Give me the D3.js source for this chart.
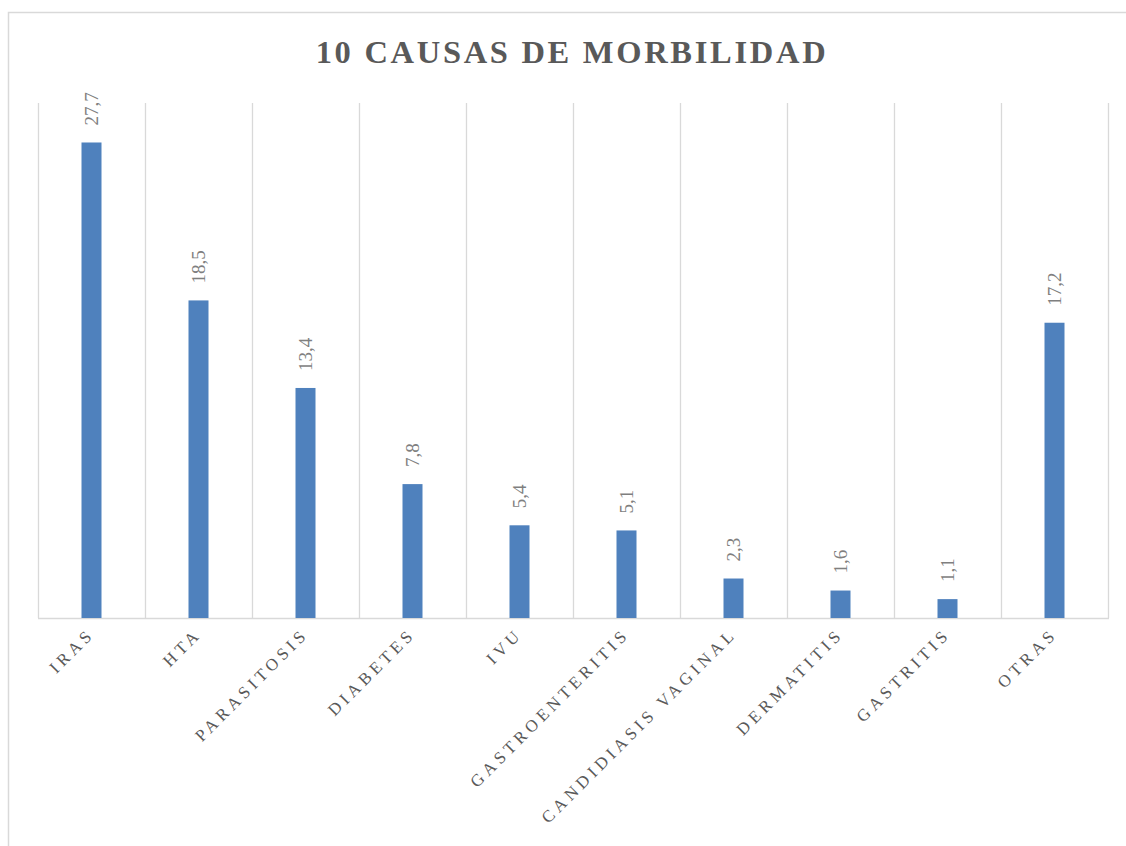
<!DOCTYPE html>
<html>
<head>
<meta charset="utf-8">
<script src="https://cdn.jsdelivr.net/npm/d3@7"></script>
<style>
  html, body { margin: 0; padding: 0; background: #fff; }
  svg { display: block; }
</style>
</head>
<body>
<script>
// data
var categories = ['IRAS', 'HTA', 'PARASITOSIS', 'DIABETES', 'IVU', 'GASTROENTERITIS',
  'CANDIDIASIS VAGINAL', 'DERMATITIS', 'GASTRITIS', 'OTRAS'];
var values = [27.7, 18.5, 13.4, 7.8, 5.4, 5.1, 2.3, 1.6, 1.1, 17.2];
var valueLabels = ['27,7', '18,5', '13,4', '7,8', '5,4', '5,1', '2,3', '1,6', '1,1', '17,2'];
var yDomain = [0, 30];
var title = '10 CAUSAS DE MORBILIDAD';

var W = 1126, H = 846;
var plot = {left: 38, right: 1108, top: 103, bottom: 618};
var serif = '"Liberation Serif", "Times New Roman", "DejaVu Serif", serif';

var svg = d3.select('body').append('svg')
  .attr('width', W)
  .attr('height', H);

// chart area border (runs off the right and bottom edges)
svg.append('path')
  .attr('d', 'M8.5,' + (H + 5) + 'V12.5H' + (W + 5))
  .attr('fill', 'none')
  .attr('stroke', '#d9d9d9')
  .attr('stroke-width', 1.5);

svg.append('text')
  .attr('x', 572)
  .attr('y', 63)
  .attr('text-anchor', 'middle')
  .style('font-family', serif)
  .style('font-weight', 'bold')
  .style('font-size', '32.5px')
  .style('letter-spacing', '2.7px')
  .style('fill', '#595959')
  .text(title);

var x = d3.scaleBand()
  .domain(categories)
  .range([plot.left, plot.right])
  .paddingInner(0)
  .paddingOuter(0);

var y = d3.scaleLinear()
  .domain(yDomain)
  .range([plot.bottom, plot.top]);

// vertical gridlines between categories
var edges = categories.map(function (c) { return x(c); }).concat([plot.right]);
svg.append('g')
  .selectAll('line')
  .data(edges)
  .join('line')
  .attr('x1', function (d) { return Math.round(d) + 0.5; })
  .attr('x2', function (d) { return Math.round(d) + 0.5; })
  .attr('y1', plot.top)
  .attr('y2', plot.bottom)
  .attr('stroke', '#d9d9d9')
  .attr('stroke-width', 1.3);

// baseline
svg.append('line')
  .attr('x1', plot.left)
  .attr('x2', plot.right + 1)
  .attr('y1', plot.bottom + 0.5)
  .attr('y2', plot.bottom + 0.5)
  .attr('stroke', '#d9d9d9')
  .attr('stroke-width', 1.5);

var barW = 20;
var data = categories.map(function (c, i) {
  return {cat: c, value: values[i], label: valueLabels[i]};
});

svg.append('g')
  .selectAll('rect')
  .data(data)
  .join('rect')
  .attr('x', function (d) { return x(d.cat) + x.bandwidth() / 2 - barW / 2; })
  .attr('width', barW)
  .attr('y', function (d) { return y(d.value); })
  .attr('height', function (d) { return y(0) - y(d.value); })
  .attr('fill', '#4f81bd');

// value labels, rotated
svg.append('g')
  .selectAll('text')
  .data(data)
  .join('text')
  .attr('transform', function (d) {
    var cx = x(d.cat) + x.bandwidth() / 2;
    return 'translate(' + cx + ',' + (y(d.value) - 17) + ') rotate(-90)';
  })
  .attr('dy', '0.35em')
  .attr('text-anchor', 'start')
  .style('font-family', serif)
  .style('font-size', '19px')
  .style('fill', '#7f7f7f')
  .text(function (d) { return d.label; });

// category labels at -45 degrees
svg.append('g')
  .selectAll('text')
  .data(categories)
  .join('text')
  .attr('transform', function (d) {
    var cx = x(d) + x.bandwidth() / 2;
    return 'translate(' + (cx + 4) + ',' + (plot.bottom + 17) + ') rotate(-45)';
  })
  .attr('text-anchor', 'end')
  .style('font-family', serif)
  .style('font-size', '17px')
  .style('letter-spacing', '4.2px')
  .style('fill', '#595959')
  .text(function (d) { return d; });
</script>
</body>
</html>
